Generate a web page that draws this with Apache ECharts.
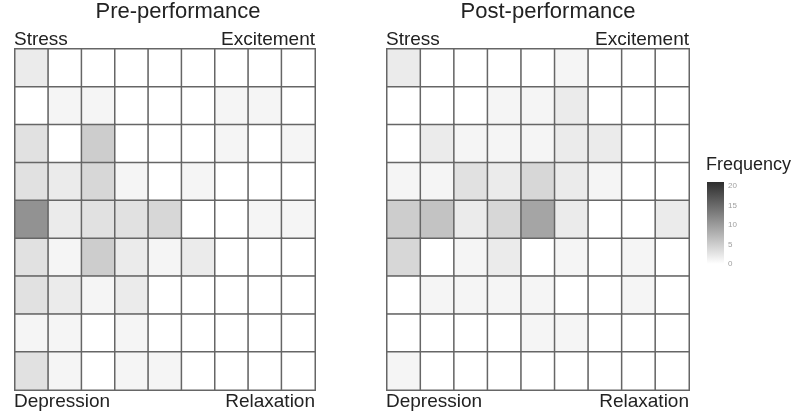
<!DOCTYPE html>
<html>
<head>
<meta charset="utf-8">
<script src="https://cdn.jsdelivr.net/npm/echarts@6/dist/echarts.min.js"></script>
<style>html,body{margin:0;padding:0;background:#fff;}#c{width:800px;height:420px;}</style>
</head>
<body>
<div id="c"></div>
<script>
// Columns (left → right) and rows (top → bottom) of the 9x9 affect grid
const cols = ['1','2','3','4','5','6','7','8','9'];
const rows = ['1','2','3','4','5','6','7','8','9'];
const panelTitles = ['Pre-performance', 'Post-performance'];
const cornerLabels = ['Stress', 'Excitement', 'Depression', 'Relaxation'];
const legendTitle = 'Frequency';
const legendTicks = [0, 5, 10, 15, 20];

// Frequencies, rows top → bottom
const pre = [
  [2,0,0,0,0,0,0,0,0],
  [0,1,1,0,0,0,1,1,0],
  [3,0,5,0,0,0,1,0,1],
  [3,2,4,1,0,1,0,0,0],
  [11,2,3,3,4,0,0,1,1],
  [3,1,5,2,1,2,0,0,0],
  [3,2,1,2,0,0,0,0,0],
  [1,1,0,1,0,0,0,0,0],
  [3,1,0,1,1,0,0,0,0]
];
const post = [
  [2,0,0,0,0,1,0,0,0],
  [0,0,0,1,1,2,0,0,0],
  [0,2,1,1,1,2,2,0,0],
  [1,1,3,2,4,2,1,0,0],
  [5,6,2,4,9,2,0,0,2],
  [4,0,1,2,0,1,0,1,0],
  [0,1,1,1,1,0,0,1,0],
  [0,0,0,0,1,1,0,0,0],
  [1,0,0,0,0,0,0,0,0]
];

function toCells(m) {
  const out = [];
  m.forEach((r, ri) => r.forEach((v, ci) => out.push([ci, ri, v])));
  return out;
}

const FONT = '"Liberation Sans", Arial, sans-serif';
const LOW = '#ffffff', HIGH = '#2e2e2e', VMAX = 21;
const panels = [
  {left: 15, width: 300},
  {left: 387, width: 302}
];
const gTop = 49, gH = 341;
const leg = {left: 707, top: 182, width: 17, height: 82};

const grids = panels.map(p => ({left: p.left, top: gTop, width: p.width, height: gH}));
grids.push({left: leg.left, top: leg.top, width: leg.width, height: leg.height});

const xAxes = panels.map((p, i) => ({type: 'category', data: cols, gridIndex: i, show: false}));
xAxes.push({type: 'value', gridIndex: 2, show: false});
const yAxes = panels.map((p, i) => ({type: 'category', data: rows, gridIndex: i, inverse: true, show: false}));
yAxes.push({
  type: 'value', gridIndex: 2, min: 0, max: VMAX, interval: 5, position: 'right',
  axisLine: {show: false}, axisTick: {show: false}, splitLine: {show: false},
  axisLabel: {show: true, fontSize: 8, color: '#a0a0a0', fontFamily: FONT, margin: 4,
    formatter: v => legendTicks.indexOf(v) >= 0 ? String(v) : ''}
});

const series = [pre, post].map((m, i) => ({
  type: 'heatmap', xAxisIndex: i, yAxisIndex: i, data: toCells(m),
  itemStyle: {borderColor: '#666666', borderWidth: 1.5},
  emphasis: {disabled: true}
}));

const graphics = [];
const titleCenters = [178, 548];
panels.forEach((p, i) => {
  graphics.push({type: 'text', x: titleCenters[i], y: 12,
    style: {text: panelTitles[i], font: '22px ' + FONT, fill: '#222', align: 'center', verticalAlign: 'middle'}});
  const l = p.left, r = p.left + p.width;
  graphics.push({type: 'text', x: l - 1, y: 40, style: {text: cornerLabels[0], font: '19px ' + FONT, fill: '#222', align: 'left', verticalAlign: 'middle'}});
  graphics.push({type: 'text', x: r, y: 40, style: {text: cornerLabels[1], font: '19px ' + FONT, fill: '#222', align: 'right', verticalAlign: 'middle'}});
  graphics.push({type: 'text', x: l - 1, y: 402, style: {text: cornerLabels[2], font: '19px ' + FONT, fill: '#222', align: 'left', verticalAlign: 'middle'}});
  graphics.push({type: 'text', x: r, y: 402, style: {text: cornerLabels[3], font: '19px ' + FONT, fill: '#222', align: 'right', verticalAlign: 'middle'}});
});
graphics.push({type: 'text', x: 706, y: 165, style: {text: legendTitle, font: '18px ' + FONT, fill: '#222', align: 'left', verticalAlign: 'middle'}});
// colour bar of the legend (square-cornered gradient, same scale as the visualMap)
graphics.push({type: 'rect', shape: {x: leg.left, y: leg.top, width: leg.width, height: leg.height},
  style: {fill: new echarts.graphic.LinearGradient(0, 0, 0, 1, [{offset: 0, color: HIGH}, {offset: 1, color: LOW}])},
  z: 10});

const chart = echarts.init(document.getElementById('c'), null, {renderer: 'canvas'});
chart.setOption({
  animation: false,
  backgroundColor: '#ffffff',
  grid: grids,
  xAxis: xAxes,
  yAxis: yAxes,
  visualMap: {
    type: 'continuous', min: 0, max: VMAX, seriesIndex: [0, 1], show: false,
    inRange: {color: [LOW, HIGH]}
  },
  series: series,
  graphic: graphics
});
</script>
</body>
</html>
